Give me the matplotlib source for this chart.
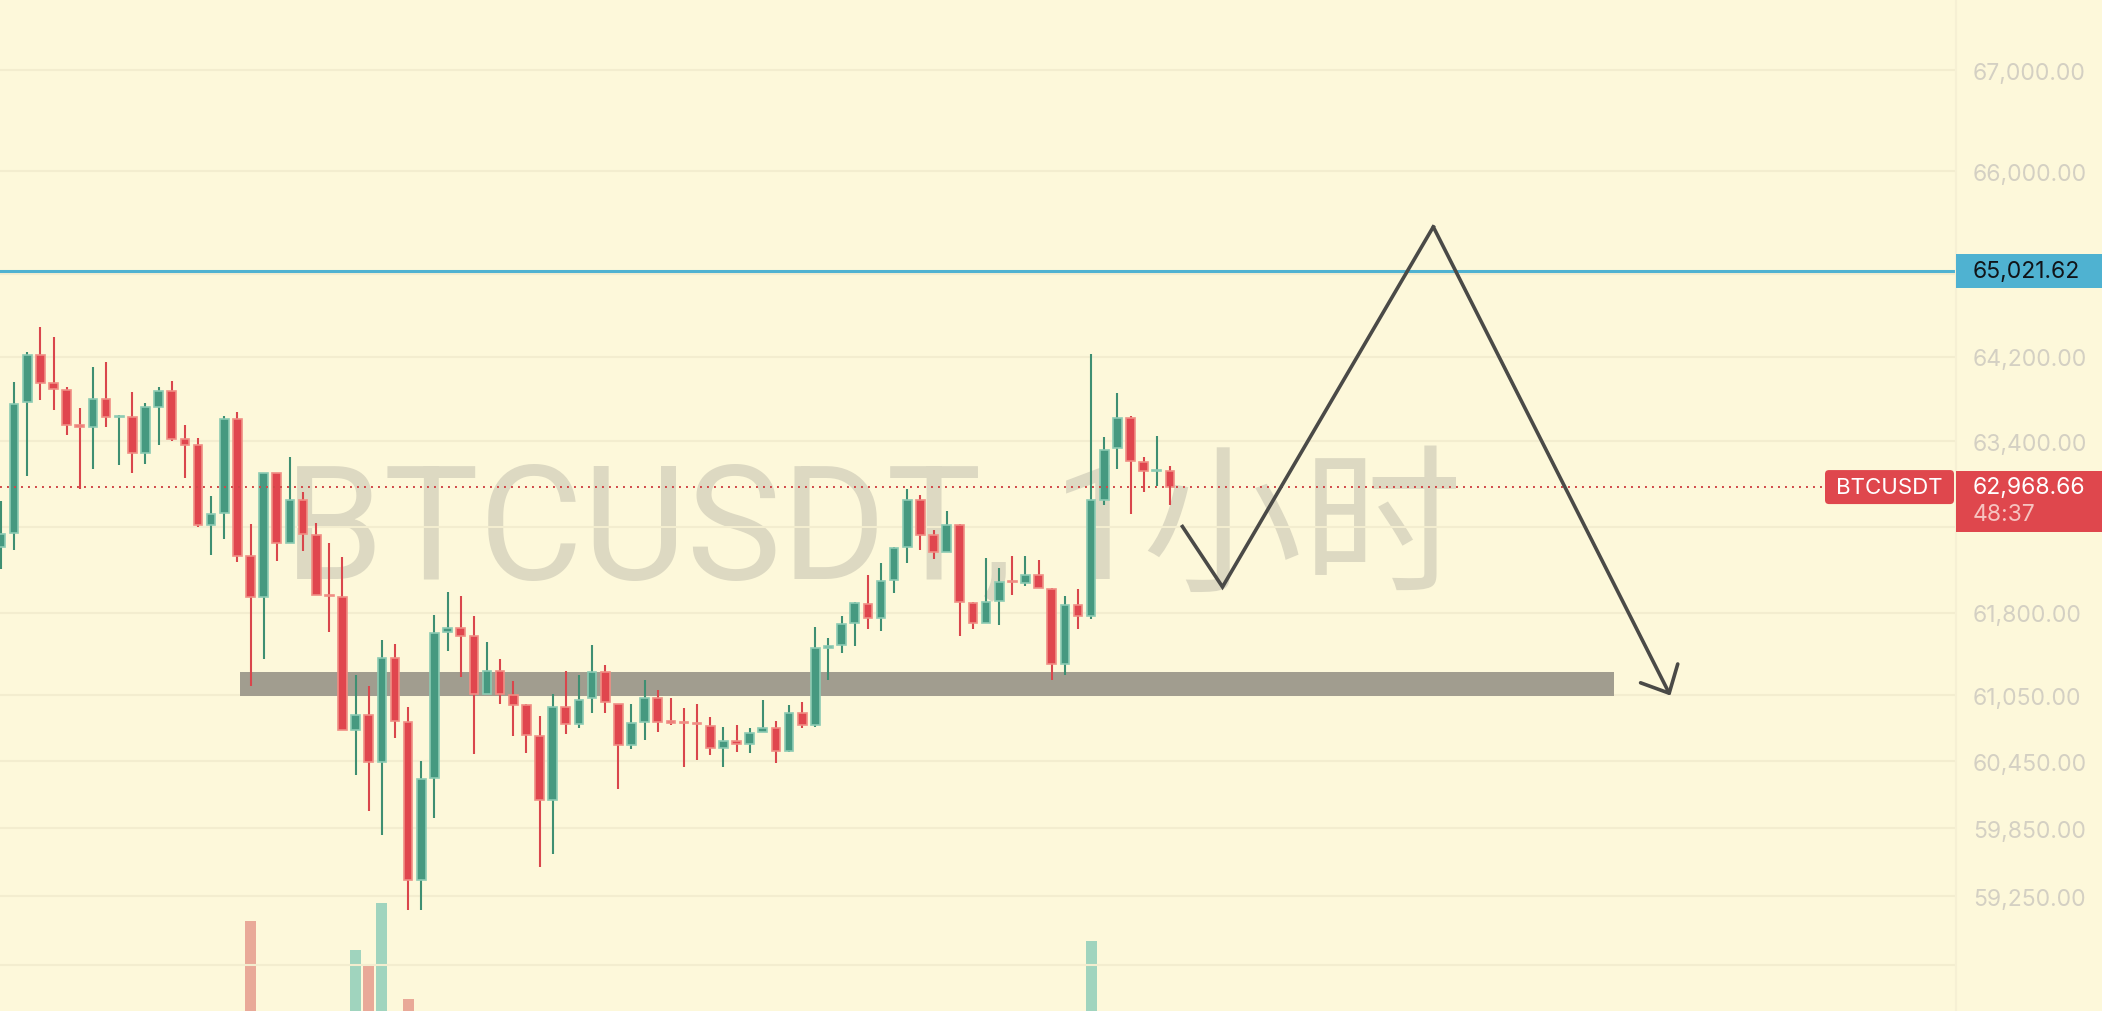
import numpy as np
import matplotlib
matplotlib.use("Agg")
import matplotlib.pyplot as plt
import matplotlib.ticker as mticker
from matplotlib.patches import Rectangle, FancyBboxPatch
from matplotlib.transforms import IdentityTransform

# --- BTCUSDT 1h candles ---
opens = [62407, 62540, 63767, 64218, 63949, 63884, 63556, 63535, 63804, 63626,
         63629, 63285, 63727, 63873, 63418, 63364, 62614, 62726, 63611, 62326,
         61944, 63104, 62449, 62852, 62523, 61968, 61951, 60736, 60869, 60443,
         61385, 60806, 59394, 60303, 61629, 61664, 61584, 61061, 61270, 61054,
         60956, 60677, 60100, 60945, 60788, 61019, 61259, 60973, 60597, 60806,
         61026, 60813, 60806, 60799, 60771, 60572, 60631, 60607, 60712, 60754,
         60548, 60886, 60781, 61483, 61507, 61706, 61881, 61751, 62102, 62407,
         62845, 62519, 62365, 62611, 61891, 61706, 61909, 62098, 62080, 62147,
         62021, 61333, 61874, 61776, 62852, 63332, 63622, 63202, 63119, 63122]
highs = [62834, 63964, 64247, 64484, 64393, 63913, 63716, 64102, 64153, 63647,
         63866, 63764, 63913, 63975, 63556, 63429, 62881, 63636, 63680, 62625,
         63104, 63104, 63249, 62924, 62636, 62449, 62319, 61235, 61130, 61549,
         61514, 60945, 60457, 61783, 61993, 61958, 61776, 61531, 61381, 61176,
         60966, 60862, 61061, 61270, 61235, 61504, 61322, 60973, 60966, 61190,
         61095, 61026, 60931, 60973, 60851, 60757, 60781, 60754, 61001, 60816,
         60956, 60991, 61671, 61566, 61776, 61898, 62154, 62260, 62407, 62950,
         62895, 62565, 62744, 62625, 61898, 62309, 62214, 62330, 62330, 62291,
         62028, 61958, 62021, 64229, 63440, 63858, 63636, 63249, 63447, 63169]
lows = [62203, 62382, 63068, 63789, 63695, 63455, 62950, 63141, 63538, 63177,
        63104, 63187, 63368, 63400, 63050, 62593, 62337, 62484, 62274, 61130,
        61374, 62284, 62449, 62372, 61961, 61626, 60729, 60330, 60004, 59792,
        60659, 59130, 59130, 59943, 61455, 61218, 60520, 61061, 60966, 60677,
        60527, 59507, 59627, 60694, 60747, 60886, 60886, 60200, 60562, 60642,
        60712, 60781, 60399, 60467, 60509, 60399, 60537, 60527, 60712, 60433,
        60537, 60754, 60764, 61190, 61434, 61497, 61654, 61636, 61986, 62260,
        62379, 62302, 62365, 61584, 61654, 61706, 61688, 61968, 62049, 62028,
        61190, 61235, 61654, 61741, 62798, 63141, 62719, 62924, 62978, 62805]
closes = [62530, 63756, 64218, 63949, 63891, 63556, 63535, 63804, 63629, 63640,
          63285, 63727, 63873, 63422, 63364, 62611, 62719, 63611, 62330, 61944,
          63104, 62449, 62852, 62530, 61961, 61958, 60736, 60869, 60443, 61385,
          60816, 59394, 60296, 61612, 61664, 61584, 61061, 61270, 61061, 60956,
          60687, 60100, 60945, 60788, 61001, 61259, 60984, 60597, 60799, 61026,
          60806, 60799, 60792, 60785, 60572, 60631, 60607, 60705, 60747, 60548,
          60886, 60781, 61479, 61500, 61699, 61888, 61751, 62091, 62400, 62845,
          62523, 62365, 62611, 61898, 61706, 61898, 62084, 62084, 62147, 62028,
          61333, 61874, 61776, 62852, 63321, 63622, 63209, 63122, 63130, 62968.66]
volumes = [1400, 1900, 1700, 1500, 1100, 1000, 900, 1000, 800, 700,
           900, 850, 700, 900, 600, 1300, 800, 1600, 1900, 3330,
           2100, 1500, 1300, 900, 1400, 1000, 2200, 2985, 2805, 3550,
           1600, 2395, 2000, 2200, 1200, 1100, 1500, 900, 700, 800,
           900, 1500, 1400, 800, 700, 800, 600, 900, 600, 700,
           500, 400, 600, 500, 600, 400, 300, 400, 500, 600,
           700, 500, 1500, 600, 900, 800, 900, 1000, 1100, 1300,
           900, 700, 800, 1600, 800, 700, 600, 500, 400, 500,
           1700, 1400, 800, 3090, 2000, 1400, 1500, 800, 700, 500]

# labelled price levels; the other grid levels sit under the price tags
price_ticks = [59250, 59850, 60450, 61050, 61800, 63400, 64200, 66000, 67000]
hidden_grid = [58650, 62600, 65000]
alert_price = 65021.62
last_price = closes[-1]
countdown = "48:37"

# support zone and the drawn path (bar index, price)
zone_bars = (18.2, 122.8)
zone_prices = (61045, 61260)
path_bars = [89.95, 93.0, 109.05, 127.1]
path_prices = [62600, 62040, 65455, 61045]

BG = "#FDF8DA"
GRID = "#F3EDCF"
GREEN, GREEN_EDGE, GREEN_WICK = "#469980", "#8CCBB3", "#3E8F72"
RED, RED_EDGE, RED_WICK = "#E0464E", "#F08E84", "#D9464C"
LABEL_RED = "#DF474D"
BLUE = "#4FB2D1"
UI_FONT = ["Inter", "DejaVu Sans"]

W, H = 2102, 1012
PANEL_X = 1955

fig = plt.figure(figsize=(W / 100, H / 100), dpi=100, facecolor=BG)
ax = fig.add_axes([0, 0, PANEL_X / W, 1])
axv = ax.twinx()
axv.set_zorder(0)
ax.set_zorder(1)
ax.patch.set_visible(False)
axv.patch.set_visible(False)

o = np.array(opens, float)
h = np.array(highs, float)
l = np.array(lows, float)
c = np.array(closes, float)
x = np.arange(len(o))
up = c >= o

# volume (only the big bars reach into view)
vcols = np.where(up, "#A0D4BE", "#E9A998")
axv.bar(x, volumes, width=0.85, color=vcols, linewidth=0)
axv.set_ylim(2250, 14430)
axv.yaxis.set_visible(False)

ax.set_yscale("log")
ax.set_xlim(-0.076, 148.77)
ax.set_ylim(58246, 67712)

# watermark
ax.text(0.4468, 0.4279, "BTCUSDT, 1小时", transform=ax.transAxes, ha="center",
        va="baseline", fontsize=115, color="#DDD9C2",
        family=["Roboto", "Noto Sans CJK SC"], zorder=0)

# support zone
ax.add_patch(Rectangle((zone_bars[0], zone_prices[0]), zone_bars[1] - zone_bars[0],
                       zone_prices[1] - zone_prices[0], color="#A19D8F", lw=0, zorder=2))

body_lo = np.minimum(o, c)
body_h = np.abs(c - o)
for mask, col, edge, wick in [(up, GREEN, GREEN_EDGE, GREEN_WICK), (~up, RED, RED_EDGE, RED_WICK)]:
    ax.vlines(x[mask], l[mask], h[mask], color=wick, lw=1.5, zorder=3)
    ax.bar(x[mask], body_h[mask], bottom=body_lo[mask], width=0.66, color=col,
           edgecolor=edge, linewidth=1.2, zorder=4)

ax.axhline(alert_price, color=BLUE, lw=2.2, zorder=5)
ax.axhline(last_price, xmax=1824 / PANEL_X, color="#D04848", lw=1.4,
           linestyle=(0, (1, 2.6)), zorder=5)

# drawn path with arrow
DARK = "#4A4A47"
ax.plot(path_bars[:3], path_prices[:3], color=DARK, lw=2.6, zorder=6,
        solid_joinstyle="miter")
ax.annotate("", xy=(path_bars[3], path_prices[3]), xytext=(path_bars[2], path_prices[2]),
            arrowprops=dict(arrowstyle="->,head_length=0.8,head_width=0.75", color=DARK,
                            lw=2.6, shrinkA=0, shrinkB=0, mutation_scale=20), zorder=6)

# axis styling
ax.yaxis.tick_right()
ax.yaxis.set_major_locator(mticker.FixedLocator(price_ticks))
ax.yaxis.set_minor_locator(mticker.FixedLocator(hidden_grid))
ax.yaxis.set_major_formatter(mticker.FuncFormatter(lambda v, p: f"{v:,.2f}"))
ax.yaxis.set_minor_formatter(mticker.NullFormatter())
ax.tick_params(axis="y", which="both", length=0, pad=13, labelsize=16.5,
               labelcolor="#D4D0C3")
for lab in ax.get_yticklabels():
    lab.set_family(UI_FONT)
ax.tick_params(axis="x", bottom=False, labelbottom=False)
ax.grid(axis="y", which="both", color=GRID, lw=1.5, zorder=0)
ax.set_axisbelow(True)
for s in ax.spines.values():
    s.set_visible(False)
for s in axv.spines.values():
    s.set_visible(False)

# price-scale labels (pixel layout)
ident = IdentityTransform()
def ypix(price):
    return ax.transData.transform((0, price))[1]

fig.add_artist(plt.Line2D([PANEL_X + 0.5, PANEL_X + 0.5], [0, H], transform=ident,
                          color="#F6F0D4", lw=1.5))

yb = ypix(alert_price)
fig.add_artist(Rectangle((PANEL_X + 1, yb - 17), W - PANEL_X, 34, transform=ident,
                         color=BLUE, lw=0, zorder=10))
fig.text(1973, yb, f"{alert_price:,.2f}", transform=ident, ha="left", va="center",
         fontsize=16.5, color="#111418", family=UI_FONT, zorder=11)

yr = ypix(last_price)
fig.add_artist(Rectangle((PANEL_X + 1, yr - 45), W - PANEL_X, 61, transform=ident,
                         color=LABEL_RED, lw=0, zorder=10))
fig.text(1973, yr, f"{last_price:,.2f}", transform=ident, ha="left", va="center",
         fontsize=16.5, color="white", family=UI_FONT, zorder=11)
fig.text(1973, yr - 27, countdown, transform=ident, ha="left", va="center",
         fontsize=16.5, color="#F6C3C0", family=UI_FONT, zorder=11)

fig.add_artist(FancyBboxPatch((1825, yr - 17), 129, 34, transform=ident,
                              boxstyle="round,pad=0,rounding_size=4",
                              color=LABEL_RED, lw=0, zorder=10))
fig.text(1889, yr, "BTCUSDT", transform=ident, ha="center", va="center",
         fontsize=16, color="white", family=UI_FONT, zorder=11)

fig.savefig("out.png", dpi=100, facecolor=BG)
